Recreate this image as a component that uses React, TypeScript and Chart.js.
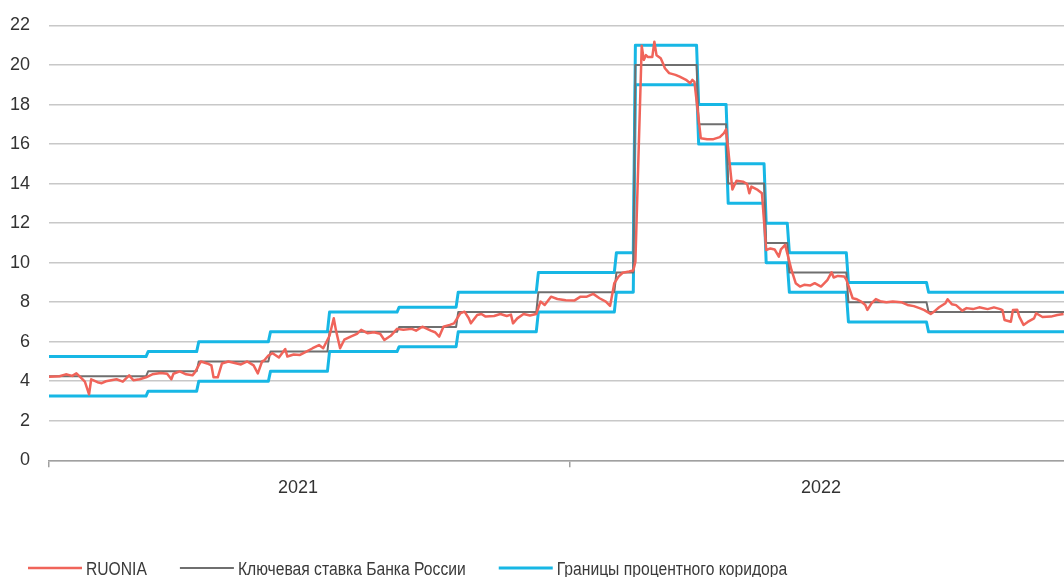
import React, { useEffect, useRef } from 'react';
import { Chart, registerables } from 'chart.js';

Chart.register(...registerables);

// x values are trading-day indices counted from the first trading day of 2021
const ruoniaDay = [
  0, 5, 8, 11, 13, 15, 17, 19, 20, 23, 25, 27, 32, 35, 38, 40, 43, 46,
  49, 53, 56, 58, 59, 62, 65, 68, 69,
  72, 75, 77, 78, 80, 82, 85, 89, 91, 94, 97, 99, 101, 102,
  104, 106, 109, 112, 113, 116, 119, 122, 125, 128, 130,
  133, 135, 136, 138, 140, 143, 146, 148, 151, 154, 157, 159, 162, 165,
  168, 172, 174, 177, 181, 183, 185, 187, 190, 192,
  195, 197, 199, 200, 203, 205, 207, 211, 214, 217, 219, 220, 222, 225, 228, 231,
  233, 235, 238, 241, 245, 249, 252, 255, 258, 261, 264, 266,
  268, 270, 272, 275, 277, 278,
  281, 282, 283, 284, 286, 287, 288, 290, 291, 292, 294, 297, 299, 302, 304, 305, 306,
  309, 312, 315, 318, 320, 321,
  324, 325, 326, 329, 331, 332, 333, 336, 338,
  340, 342, 344, 346, 347, 349,
  352, 354, 356, 358, 361, 363, 366, 369, 371, 372, 374, 377, 378,
  381, 383, 385, 387, 388, 390, 392, 394, 397, 400, 404, 407, 410, 413, 415, 418,
  420, 422, 425, 426, 428, 430, 433, 435, 438, 441, 445, 448, 451, 452, 453, 456,
  457, 459, 460, 462, 464, 467, 468, 471, 475, 478, 481,
];
const ruoniaValue = [
  4.23, 4.25, 4.35, 4.27, 4.4, 4.2, 3.98, 3.34, 4.1, 3.95, 3.9, 4.0, 4.1, 3.98, 4.3, 4.05, 4.1, 4.2,
  4.35, 4.42, 4.38, 4.1, 4.38, 4.5, 4.35, 4.3, 4.42,
  5.0, 4.9, 4.8, 4.2, 4.2, 4.9, 5.0, 4.9, 4.85, 5.0, 4.8, 4.4, 5.0, 5.05,
  5.3, 5.42, 5.2, 5.63, 5.25, 5.35, 5.33, 5.5, 5.67, 5.83, 5.67,
  6.3, 7.19, 6.6, 5.67, 6.1, 6.26, 6.4, 6.6, 6.43, 6.48, 6.4, 6.09, 6.3, 6.65,
  6.6, 6.65, 6.56, 6.76, 6.56, 6.48, 6.26, 6.76, 6.85, 6.93,
  7.44, 7.52, 7.19, 6.93, 7.35, 7.4, 7.27, 7.3, 7.4, 7.3, 7.37, 6.93, 7.18, 7.4, 7.33, 7.4,
  8.03, 7.86, 8.28, 8.16, 8.1, 8.08, 8.28, 8.28, 8.42, 8.2, 8.03, 7.81,
  8.96, 9.29, 9.49, 9.55, 9.6, 10.05,
  20.97, 20.26, 20.5, 20.4, 20.4, 21.18, 20.5, 20.34, 20.1, 19.84, 19.59, 19.5, 19.41, 19.25, 19.08, 19.25, 19.15,
  16.3, 16.25, 16.25, 16.35, 16.55, 16.75,
  13.7, 13.93, 14.15, 14.1, 13.98, 13.51, 13.85, 13.68, 13.51,
  10.64, 10.72, 10.67, 10.3, 10.67, 10.9,
  9.63, 8.96, 8.79, 8.88, 8.85, 8.96, 8.79, 9.12, 9.51, 9.25, 9.33, 9.3, 9.15,
  8.2, 8.15, 8.03, 7.86, 7.61, 7.95, 8.16, 8.05, 8.0, 8.03, 8.0, 7.86, 7.8, 7.69, 7.6, 7.4,
  7.56, 7.74, 7.95, 8.15, 7.9, 7.85, 7.57, 7.7, 7.65, 7.74, 7.65, 7.74, 7.65, 7.6, 7.1, 7.01,
  7.6, 7.62, 7.27, 6.85, 7.0, 7.18, 7.44, 7.25, 7.27, 7.35, 7.4,
];

const rateChangeDay = [0, 47, 71, 105, 133, 166, 194, 232, 269, 278, 308, 322, 340, 351, 379, 417];
const keyRateValue = [4.25, 4.5, 5.0, 5.5, 6.5, 6.75, 7.5, 8.5, 9.5, 20, 17, 14, 11, 9.5, 8, 7.5];
const corridorUpperValue = [5.25, 5.5, 6.0, 6.5, 7.5, 7.75, 8.5, 9.5, 10.5, 21, 18, 15, 12, 10.5, 9, 8.5];
const corridorLowerValue = [3.25, 3.5, 4.0, 4.5, 5.5, 5.75, 6.5, 7.5, 8.5, 19, 16, 13, 10, 8.5, 7, 6.5];

const lastDay = 481.2;
const yearBoundaryDay = [0, 247];
const yearLabelDay = [118, 366];
const yearLabels = ['2021', '2022'];

const seriesNames = ['RUONIA', 'Ключевая ставка Банка России', 'Границы процентного коридора'];

const RED = '#F0645A';
const GREY = '#6F6F6F';
const CYAN = '#17B7E5';
const AXIS_FONT = { family: '"Liberation Sans", Arial, sans-serif', size: 18 };
const LEGEND_FONT = '18px "Liberation Sans", Arial, sans-serif';
const LEGEND_SQUEEZE = 0.87;

function stepPoints(days: number[], values: number[], end: number) {
  const pts: { x: number; y: number }[] = [];
  for (let i = 0; i < days.length; i++) {
    pts.push({ x: days[i], y: values[i] });
    const stop = i + 1 < days.length ? days[i + 1] - 1 : end;
    pts.push({ x: stop, y: values[i] });
  }
  return pts;
}

const bottomLegend = {
  id: 'bottomLegend',
  afterDraw(chart: any) {
    const ctx = chart.ctx;
    const items = chart.data.datasets.filter((d: any) => d.showInLegend);
    let x = 28;
    const yLine = 568;
    ctx.save();
    ctx.font = LEGEND_FONT;
    ctx.textBaseline = 'alphabetic';
    ctx.textAlign = 'left';
    for (const d of items) {
      ctx.strokeStyle = d.borderColor;
      ctx.lineWidth = d.borderWidth;
      ctx.beginPath();
      ctx.moveTo(x, yLine);
      ctx.lineTo(x + 54, yLine);
      ctx.stroke();
      ctx.fillStyle = '#3a3a3a';
      const tx = x + 58;
      ctx.save();
      ctx.translate(tx, 575);
      ctx.scale(LEGEND_SQUEEZE, 1);
      ctx.fillText(d.label, 0, 0);
      ctx.restore();
      x = tx + ctx.measureText(d.label).width * LEGEND_SQUEEZE + 33;
    }
    ctx.restore();
  },
};

export default function App() {
  const ref = useRef<HTMLCanvasElement>(null);

  useEffect(() => {
    document.body.style.margin = '0';
    const ruonia = ruoniaDay.map((d, i) => ({ x: d, y: ruoniaValue[i] }));
    const chart = new Chart(ref.current as HTMLCanvasElement, {
      type: 'line',
      data: {
        datasets: [
          { label: seriesNames[0], data: ruonia, borderColor: RED, backgroundColor: RED, borderWidth: 2.5, showInLegend: true } as any,
          { label: seriesNames[1], data: stepPoints(rateChangeDay, keyRateValue, lastDay), borderColor: GREY, backgroundColor: GREY, borderWidth: 2, showInLegend: true } as any,
          { label: seriesNames[2], data: stepPoints(rateChangeDay, corridorUpperValue, lastDay), borderColor: CYAN, backgroundColor: CYAN, borderWidth: 3, showInLegend: true } as any,
          { label: seriesNames[2] + ' ', data: stepPoints(rateChangeDay, corridorLowerValue, lastDay), borderColor: CYAN, backgroundColor: CYAN, borderWidth: 3, showInLegend: false } as any,
        ],
      },
      options: {
        animation: false,
        responsive: true,
        maintainAspectRatio: false,
        elements: {
          point: { radius: 0, hoverRadius: 0 },
          line: { tension: 0, borderJoinStyle: 'round', borderCapStyle: 'butt' },
        },
        layout: { padding: { top: 25.5, left: 0, right: 0, bottom: 0 } },
        plugins: {
          legend: { display: false },
          tooltip: { enabled: false },
        },
        scales: {
          x: {
            type: 'linear',
            min: 0,
            max: lastDay,
            afterBuildTicks: (s: any) => {
              const vals = [...yearBoundaryDay, ...yearLabelDay].sort((a, b) => a - b);
              s.ticks = vals.map((v) => ({ value: v }));
            },
            afterFit: (s: any) => {
              s.height = 116.7;
            },
            ticks: {
              autoSkip: false,
              maxRotation: 0,
              padding: 10,
              color: '#333333',
              font: AXIS_FONT,
              callback: (v: any) => {
                const i = yearLabelDay.indexOf(Number(v));
                return i >= 0 ? yearLabels[i] : '';
              },
            },
            grid: {
              drawOnChartArea: false,
              tickLength: 7,
              lineWidth: 1.5,
              tickColor: (c: any) => (yearBoundaryDay.includes(c.tick ? c.tick.value : -1) ? '#A0A0A0' : 'rgba(0,0,0,0)'),
            },
            border: { color: '#A0A0A0', width: 1.5 },
          },
          y: {
            min: 0,
            max: 22,
            afterFit: (s: any) => {
              s.width = 49;
              s.paddingTop = 0;
              s.paddingBottom = 0;
            },
            ticks: { stepSize: 2, padding: 19, color: '#333333', font: AXIS_FONT },
            grid: { color: '#C8C8C8', lineWidth: 1.5, drawTicks: false },
            border: { display: false },
          },
        },
      },
      plugins: [bottomLegend],
    });
    return () => chart.destroy();
  }, []);

  return (
    <div style={{ position: 'relative', width: '1064px', height: '577px' }}>
      <canvas ref={ref} />
    </div>
  );
}
